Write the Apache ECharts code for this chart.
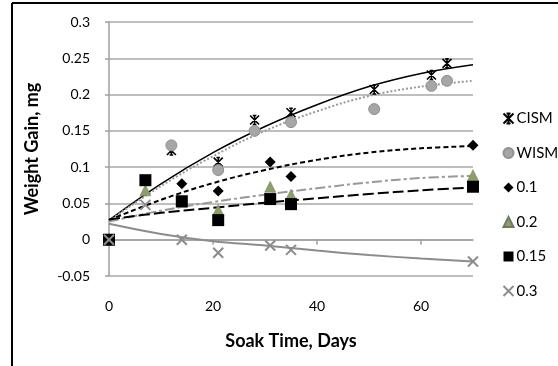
<!DOCTYPE html>
<html lang="en">
<style>
  #container {
    width: 558px;
    height: 366px;
  }

  body {
    margin: 0;
    background: #fff;
  }
</style>

<head>
  <meta charset="UTF-8">
  <script src="https://cdn.jsdelivr.net/npm/echarts@6/dist/echarts.min.js"></script>
</head>

<body>
  <div id="container"></div>
  <script>
    // measured points [day, weight gain]
    var cismPoints = [[0, 0], [12, 0.123], [21, 0.107], [28, 0.165], [35, 0.175], [51, 0.207], [62, 0.227], [65, 0.243]];
    var wismPoints = [[0, 0], [12, 0.130], [21, 0.096], [28, 0.150], [35, 0.162], [51, 0.180], [62, 0.212], [65, 0.219]];
    var p01Points = [[0, 0], [14, 0.077], [21, 0.067], [31, 0.107], [35, 0.087], [70, 0.130]];
    var p02Points = [[0, 0], [7, 0.068], [14, 0.052], [21, 0.041], [31, 0.073], [35, 0.062], [70, 0.089]];
    var p015Points = [[0, 0], [7, 0.082], [14, 0.053], [21, 0.027], [31, 0.056], [35, 0.049], [70, 0.073]];
    var p03Points = [[0, 0], [7, 0.048], [14, 0.0], [21, -0.018], [31, -0.008], [35, -0.014], [70, -0.030]];

    // trend lines
    var trendDays = [0, 10, 20, 30, 40, 50, 60, 70];
    var cismTrend = [0.027, 0.077, 0.120, 0.156, 0.186, 0.211, 0.229, 0.241];
    var wismTrend = [0.026, 0.074, 0.115, 0.150, 0.177, 0.198, 0.211, 0.219];
    var p01Trend = [0.027, 0.055, 0.078, 0.096, 0.110, 0.120, 0.126, 0.129];
    var p02Trend = [0.025, 0.040, 0.052, 0.062, 0.071, 0.079, 0.085, 0.088];
    var p015Trend = [0.028, 0.037, 0.044, 0.051, 0.057, 0.063, 0.068, 0.072];
    var p03Trend = [0.022, 0.008, -0.002, -0.008, -0.015, -0.021, -0.026, -0.030];

    var legendNames = ['CISM', 'WISM', '0.1', '0.2', '0.15', '0.3'];
    var yTicks = [-0.05, 0, 0.05, 0.1, 0.15, 0.2, 0.25, 0.3];

    var starPath = 'path://M0,0L10,10M10,0L0,10M5,0L5,10M3,0L7,0M3,10L7,10';
    var crossPath = 'path://M0,0L10,10M10,0L0,10';

    function pairs(ys) {
      return trendDays.map(function (d, i) { return [d, ys[i]]; });
    }

    function trend(ys, color, type, width) {
      return {
        type: 'line',
        data: pairs(ys),
        showSymbol: false,
        smooth: 0.4,
        silent: true,
        z: 3,
        lineStyle: { color: color, type: type, width: width }
      };
    }

    var myChart = echarts.init(document.getElementById('container'));
    var font = 'Lato, "Open Sans", sans-serif';

    var option = {
      animation: false,
      textStyle: { fontFamily: font },
      grid: { left: 109, right: 85, top: 22, bottom: 90 },
      legend: {
        data: legendNames,
        orient: 'vertical',
        left: 496,
        top: 106,
        itemWidth: 10,
        itemHeight: 10,
        itemGap: 19.5,
        textStyle: { fontSize: 15, color: '#000', fontFamily: font, padding: [0, 0, 0, -2] }
      },
      xAxis: {
        type: 'value',
        min: 0,
        max: 70,
        interval: 20,
        name: 'Soak Time, Days',
        nameLocation: 'middle',
        nameGap: 56,
        nameTextStyle: { fontSize: 18, fontWeight: 'bold', color: '#000', fontFamily: font },
        axisLine: { show: true, lineStyle: { color: '#a0a0a0', width: 1.5 } },
        axisTick: { show: true, length: 5, lineStyle: { color: '#a0a0a0', width: 1.5 } },
        axisLabel: { fontSize: 14, color: '#000', margin: 23, showMaxLabel: false },
        splitLine: { show: false }
      },
      yAxis: {
        type: 'value',
        min: -0.05,
        max: 0.3,
        interval: 0.05,
        name: 'Weight Gain, mg',
        nameLocation: 'middle',
        nameGap: 68,
        nameTextStyle: { fontSize: 18, fontWeight: 'bold', color: '#000', fontFamily: font },
        axisLine: { show: true, lineStyle: { color: '#a0a0a0', width: 1.5 } },
        axisTick: { show: true, length: 4, lineStyle: { color: '#a0a0a0', width: 1.5 } },
        axisLabel: {
          fontSize: 14, color: '#000', margin: 19,
          formatter: function (v) {
            var t = yTicks.filter(function (k) { return Math.abs(k - v) < 1e-6; });
            return t.length ? String(t[0]) : '';
          }
        },
        splitLine: { show: true, lineStyle: { color: '#a8a8a8', width: 1.5 } }
      },
      graphic: [
        { type: 'line', shape: { x1: 12, y1: 3, x2: 558, y2: 3 }, style: { stroke: '#000', lineWidth: 2 } },
        { type: 'line', shape: { x1: 12, y1: 3, x2: 12, y2: 366 }, style: { stroke: '#000', lineWidth: 2 } }
      ],
      series: [
        trend(cismTrend, '#000', 'solid', 1.5),
        trend(wismTrend, '#9a9a9a', 'dotted', 2),
        trend(p01Trend, '#000', [5, 3], 2),
        trend(p02Trend, '#999', [10, 3, 3, 3], 2),
        trend(p015Trend, '#000', [11, 4], 2),
        trend(p03Trend, '#8c8c8c', 'solid', 2),
        {
          name: 'CISM', type: 'scatter', data: cismPoints, symbol: starPath, symbolSize: 9, z: 5,
          itemStyle: { color: 'none', borderColor: '#000', borderWidth: 1.6, opacity: 1 }
        },
        {
          name: 'WISM', type: 'scatter', data: wismPoints, symbol: 'circle', symbolSize: 11, z: 5,
          itemStyle: { color: '#a6a6a6', borderColor: '#909090', borderWidth: 1, opacity: 1 }
        },
        {
          name: '0.1', type: 'scatter', data: p01Points, symbol: 'diamond', symbolSize: 11, z: 5,
          itemStyle: { color: '#000', opacity: 1 }
        },
        {
          name: '0.2', type: 'scatter', data: p02Points, symbol: 'triangle', symbolSize: 11, z: 5,
          itemStyle: { color: '#8ba067', borderColor: '#707a60', borderWidth: 0.5, opacity: 1 }
        },
        {
          name: '0.15', type: 'scatter', data: p015Points, symbol: 'rect', symbolSize: 12, z: 5,
          itemStyle: { color: '#000', opacity: 1 }
        },
        {
          name: '0.3', type: 'scatter', data: p03Points, symbol: crossPath, symbolSize: 10, z: 5,
          itemStyle: { color: 'none', borderColor: '#8c8c8c', borderWidth: 2, opacity: 1 }
        }
      ]
    };
    myChart.setOption(option);
  </script>
</body>

</html>
